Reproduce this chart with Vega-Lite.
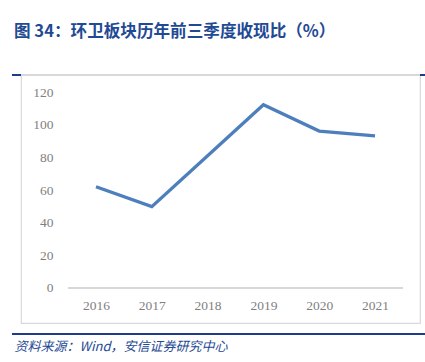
{
  "$schema": "https://vega.github.io/schema/vega-lite/v6.json",
  "autosize": "none",
  "width": 399,
  "height": 248,
  "padding": {"left": 21, "top": 75, "right": 5, "bottom": 39},
  "background": "white",
  "config": {
    "view": {"stroke": "#D9D9D9", "strokeWidth": 1.2}
  },
  "title": {
    "text": "图 34：环卫板块历年前三季度收现比（%）",
    "anchor": "start",
    "frame": "group",
    "dx": -7,
    "offset": 18,
    "baseline": "bottom",
    "font": "Noto Sans CJK SC",
    "fontSize": 16.6,
    "fontWeight": "bold",
    "color": "#1F4A94"
  },
  "data": {
    "values": [
      {"year": 2016, "value": 62.0},
      {"year": 2017, "value": 49.8},
      {"year": 2018, "value": 81.0},
      {"year": 2019, "value": 112.2},
      {"year": 2020, "value": 96.1},
      {"year": 2021, "value": 93.1}
    ]
  },
  "layer": [
    {
      "mark": {"type": "rule", "color": "#1F3C88", "strokeWidth": 1.6},
      "encoding": {
        "x": {"datum": 2014.495, "type": "quantitative"},
        "x2": {"datum": 2021.896},
        "y": {"datum": 130.41, "type": "quantitative"}
      }
    },
    {
      "mark": {"type": "rule", "color": "#D9D9D9", "strokeWidth": 1.4},
      "encoding": {
        "x": {"datum": 2014.656, "type": "quantitative"},
        "x2": {"datum": 2021.806},
        "y": {"datum": 130.41, "type": "quantitative"}
      }
    },
    {
      "mark": {"type": "rule", "color": "#1F3C88", "strokeWidth": 1.6},
      "encoding": {
        "x": {"datum": 2014.495, "type": "quantitative"},
        "x2": {"datum": 2021.896},
        "y": {"datum": -28.16, "type": "quantitative"}
      }
    },
    {
      "mark": {"type": "rule", "color": "#D9D9D9", "strokeWidth": 1},
      "encoding": {
        "x": {"datum": 2015.5, "type": "quantitative"},
        "x2": {"datum": 2021.5},
        "y": {"datum": 0, "type": "quantitative"}
      }
    },
    {
      "mark": {"type": "line", "color": "#4E7FBD", "strokeWidth": 3.3, "strokeJoin": "miter", "strokeCap": "butt"},
      "encoding": {
        "x": {
          "field": "year",
          "type": "quantitative",
          "scale": {"domain": [2014.656, 2021.806], "nice": false, "zero": false},
          "axis": {
            "orient": "bottom",
            "offset": -35,
            "values": [2016, 2017, 2018, 2019, 2020, 2021],
            "format": "d",
            "domain": false,
            "ticks": false,
            "grid": false,
            "labelPadding": 10,
            "labelFont": "Liberation Serif",
            "labelFontSize": 13.5,
            "labelColor": "#7F7F7F",
            "labelFlush": false,
            "title": "资料来源：Wind，安信证券研究中心",
            "titleFont": "Noto Sans CJK SC",
            "titleFontStyle": "italic",
            "titleFontWeight": "normal",
            "titleFontSize": 13,
            "titleColor": "#1F4A94",
            "titleAnchor": "start",
            "titleAlign": "left",
            "titleBaseline": "middle",
            "titleX": -7,
            "titleY": 58
          }
        },
        "y": {
          "field": "value",
          "type": "quantitative",
          "scale": {"domain": [-21.43, 130.41], "nice": false, "zero": false},
          "axis": {
            "orient": "left",
            "offset": -34,
            "values": [0, 20, 40, 60, 80, 100, 120],
            "domain": false,
            "ticks": false,
            "grid": false,
            "labelPadding": 2,
            "labelFont": "Liberation Serif",
            "labelFontSize": 13.5,
            "labelColor": "#7F7F7F",
            "title": null
          }
        }
      }
    }
  ]
}
